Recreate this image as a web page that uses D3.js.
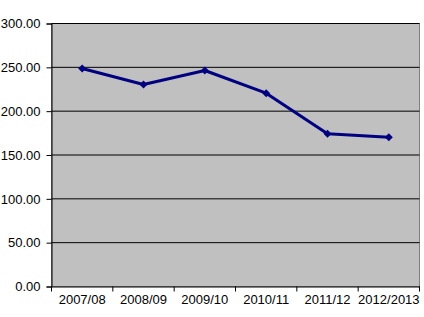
<!DOCTYPE html>
<html><head><meta charset="utf-8">
<script src="https://cdn.jsdelivr.net/npm/d3@7"></script>
<style>body{margin:0;background:#fff}svg{display:block}</style>
</head><body>
<svg id="c" width="424" height="317"></svg>
<script>
const categories = ["2007/08","2008/09","2009/10","2010/11","2011/12","2012/2013"];
const values = [248.7, 230.4, 246.4, 220.5, 174.2, 170.3];
const yTicks = [0,50,100,150,200,250,300];

const svg = d3.select("#c");
const L = 51.5, R = 419.5, T = 23.5, B = 286.5;
const x = d3.scaleBand().domain(categories).range([L, R]);
const y = d3.scaleLinear().domain([0,300]).range([B, T]);

svg.append("rect").attr("x", L).attr("y", T).attr("width", R-L).attr("height", B-T)
  .attr("fill", "#c0c0c0").attr("stroke", "#808080").attr("stroke-width", 1);

svg.append("g").selectAll("line").data(yTicks.filter(d=>d>0)).join("line")
  .attr("x1", L).attr("x2", R).attr("y1", d=>y(d)).attr("y2", d=>y(d))
  .attr("stroke", "#000").attr("stroke-width", 1);

const yAxis = svg.append("g").attr("transform", `translate(${L},0)`)
  .call(d3.axisLeft(y).tickValues(yTicks).tickFormat(d3.format(".2f")).tickSize(5).tickPadding(6));
const xAxis = svg.append("g").attr("transform", `translate(0,${B})`)
  .call(d3.axisBottom(x).tickSize(0).tickPadding(8));
const bounds = categories.map(c => x(c)).concat([R]);
svg.append("g").selectAll("line").data(bounds).join("line")
  .attr("x1", d=>d).attr("x2", d=>d).attr("y1", B).attr("y2", B+5).attr("stroke","#000");

[yAxis, xAxis].forEach(g => {
  g.selectAll("path.domain").attr("stroke", "#000");
  g.selectAll("line").attr("stroke", "#000");
  g.selectAll("text").attr("font-family", "Liberation Sans, Arial, sans-serif")
    .attr("font-size", 13).attr("fill", "#000");
});

const line = d3.line().x((d,i)=>x(categories[i]) + x.bandwidth()/2).y(d=>y(d));
svg.append("path").datum(values).attr("d", line).attr("fill","none")
  .attr("stroke", "#000080").attr("stroke-width", 3).attr("stroke-linejoin","round");

svg.append("g").selectAll("path").data(values).join("path")
  .attr("transform", (d,i)=>`translate(${x(categories[i]) + x.bandwidth()/2},${y(d)})`)
  .attr("d", "M0,-4L4,0L0,4L-4,0Z").attr("fill", "#000080");
</script>
</body></html>
